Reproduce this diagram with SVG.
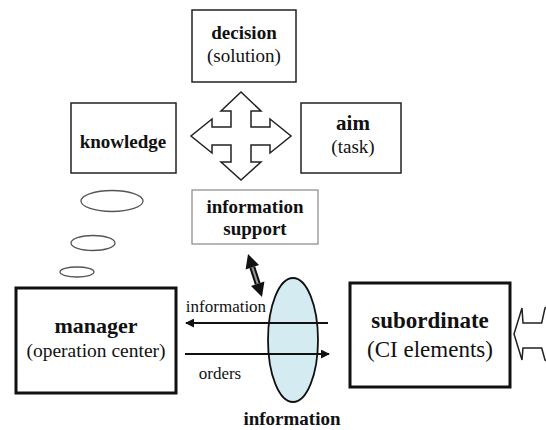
<svg xmlns="http://www.w3.org/2000/svg" width="546" height="430" viewBox="0 0 546 430" font-family="'Liberation Serif', 'DejaVu Serif', serif">
<style>
text{font-family:'Liberation Serif','DejaVu Serif',serif;fill:#111;text-anchor:middle}
.b{font-weight:bold}
.box{fill:#fff;stroke:#222;stroke-width:1.5}
.thin{fill:#fff;stroke:#888;stroke-width:1.2}
.thick{fill:#fff;stroke:#111;stroke-width:3}
.cl{fill:none;stroke:#555;stroke-width:1.3}
.ar{stroke:#111;stroke-width:2;fill:none}
</style>
<defs>
<marker id="ah" viewBox="0 0 10 10" refX="9" refY="5" markerWidth="4.5" markerHeight="4.5" orient="auto" markerUnits="strokeWidth">
<path d="M0,0 L10,5 L0,10 z" fill="#111"/>
</marker>
</defs>
<rect width="546" height="430" fill="#fff"/>

<g id="decision">
<rect class="box" x="192" y="10" width="104" height="72"/>
<text class="b" x="244" y="39" font-size="19">decision</text>
<text x="244" y="62" font-size="19">(solution)</text>
</g>

<g id="aim">
<rect class="box" x="301" y="103" width="100" height="70"/>
<text class="b" x="353" y="130" font-size="21">aim</text>
<text x="353" y="153" font-size="19">(task)</text>
</g>

<g id="knowledge">
<rect class="box" x="71" y="103" width="105" height="70"/>
<text class="b" x="123" y="148" font-size="19">knowledge</text>
</g>

<g id="cross">
<polygon fill="#fff" stroke="#222" stroke-width="1.5" points="241,92 261,111 251,111 251,127 270,127 270,119 291,136 270,153 270,145 251,145 251,162 261,162 241,180 221,162 231,162 231,145 212,145 212,153 191,136 212,119 212,127 231,127 231,111 221,111"/>
</g>

<g id="thoughts">
<ellipse class="cl" cx="112" cy="201" rx="31" ry="10.5"/>
<ellipse class="cl" cx="93" cy="243" rx="22" ry="7.5"/>
<ellipse class="cl" cx="77" cy="272" rx="17" ry="5"/>
</g>

<g id="info-support">
<rect class="thin" x="192" y="190" width="126" height="54"/>
<text class="b" x="255" y="213" font-size="19">information</text>
<text class="b" x="255" y="235" font-size="19">support</text>
</g>

<g id="info-channel">
<ellipse cx="293" cy="340" rx="25" ry="62" fill="#d4ecf1" stroke="#111" stroke-width="1.8"/>
</g>

<g id="manager">
<rect class="thick" x="16" y="288" width="160" height="105"/>
<text class="b" x="96" y="333" font-size="22">manager</text>
<text x="96" y="357" font-size="19.5">(operation center)</text>
</g>

<g id="subordinate">
<rect class="thick" x="350" y="283" width="160" height="104"/>
<text class="b" x="430" y="328" font-size="23">subordinate</text>
<text x="430" y="357" font-size="23">(CI elements)</text>
</g>

<g id="connectors">
<line x1="252.3" y1="267.3" x2="257.7" y2="283.7" stroke="#111" stroke-width="6"/>
<line x1="252.3" y1="267.3" x2="257.7" y2="283.7" stroke="#999" stroke-width="2"/>
<polygon points="248,254 259,265.1 245.6,269.5" fill="#111"/>
<polygon points="262,297 264.4,281.5 251,285.9" fill="#111"/>
<line class="ar" x1="328" y1="323" x2="186" y2="323" marker-end="url(#ah)"/>
<line class="ar" x1="185" y1="354" x2="329" y2="354" marker-end="url(#ah)"/>
<path d="M548,306 L545,308 L541.7,323 L523,323 L522,308 L514,334 L522,360 L523,348 L541.7,348 L545,360 L548,362" fill="#fff" stroke="#222" stroke-width="1.5"/>
</g>

<g id="labels">
<text x="226" y="312" font-size="17">information</text>
<text x="220" y="379" font-size="17">orders</text>
<text class="b" x="292" y="425" font-size="19">information</text>
</g>
</svg>
